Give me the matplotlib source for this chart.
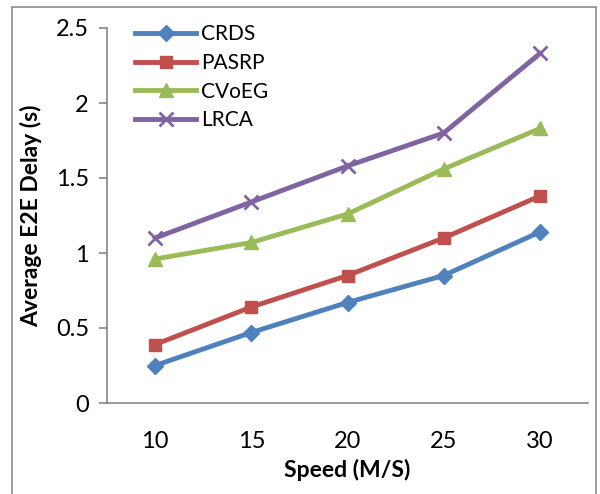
import matplotlib
matplotlib.use('Agg')
import matplotlib.pyplot as plt
from matplotlib.patches import Rectangle

# values
speeds = [10, 15, 20, 25, 30]
crds = [0.25, 0.47, 0.67, 0.85, 1.14]
pasrp = [0.39, 0.64, 0.85, 1.10, 1.38]
cvoeg = [0.96, 1.07, 1.26, 1.56, 1.83]
lrca = [1.10, 1.34, 1.58, 1.80, 2.33]
y_ticks = [0, 0.5, 1, 1.5, 2, 2.5]
y_tick_labels = ['0', '0.5', '1', '1.5', '2', '2.5']

plt.rcParams['font.family'] = ['Lato', 'DejaVu Sans']

fig = plt.figure(figsize=(6, 4.94), dpi=100)
ax = fig.add_axes([107 / 600, 1 - 403 / 494, (588 - 107) / 600, (403 - 28) / 494])

# outer chart border (excel style)
fig.patches.append(Rectangle((12 / 600, -0.02), (596 - 12) / 600, 1.02 - 7 / 494,
                             transform=fig.transFigure, fill=False,
                             edgecolor='#8c8c8c', linewidth=1.2))

x = list(range(len(speeds)))
ax.plot(x, crds, color='#4F81BD', lw=3.5, marker='D', ms=8, label='CRDS')
ax.plot(x, pasrp, color='#C0504D', lw=3.5, marker='s', ms=9, label='PASRP')
ax.plot(x, cvoeg, color='#9BBB59', lw=3.5, marker='^', ms=10, label='CVoEG')
ax.plot(x, lrca, color='#8064A2', lw=3.5, marker='x', ms=10, mew=2, label='LRCA')

ax.set_xlim(-0.5, len(speeds) - 0.5)
ax.set_ylim(0, 2.5)
ax.set_xticks(x)
ax.set_xticklabels([str(s) for s in speeds])
ax.set_yticks(y_ticks)
ax.set_yticklabels(y_tick_labels)

for side in ['top', 'right']:
    ax.spines[side].set_visible(False)
for side in ['left', 'bottom']:
    ax.spines[side].set_color('#868686')
    ax.spines[side].set_linewidth(1.2)

ax.tick_params(axis='y', length=6, color='#868686', width=1.2, labelsize=17, pad=7)
ax.tick_params(axis='x', length=0, labelsize=17, pad=20)

ax.set_xlabel('Speed (M/S)', fontsize=16.5, fontweight='bold', labelpad=5)
ax.set_ylabel('Average E2E Delay (s)', fontsize=16.5, fontweight='bold', labelpad=10)

ax.legend(loc='upper left', bbox_to_anchor=(0.02, 1.06), frameon=False, fontsize=15,
          handlelength=2.9, handletextpad=0.25, labelspacing=0.42)

fig.savefig('out.png', dpi=100)
